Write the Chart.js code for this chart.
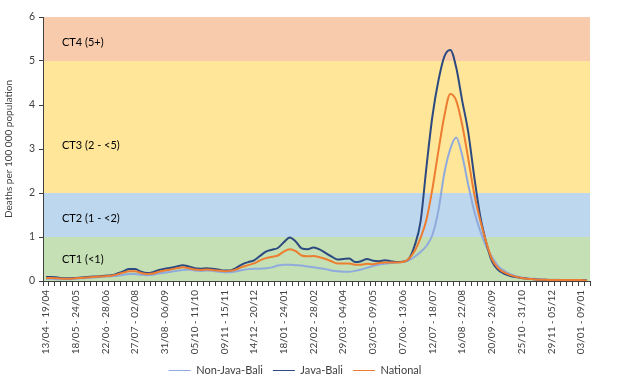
<!DOCTYPE html>
<html>
<head>
<meta charset="utf-8">
<script src="https://cdn.jsdelivr.net/npm/chart.js@4"></script>
<style>
  html, body { margin: 0; padding: 0; background: #fff; }
</style>
</head>
<body>
<canvas id="deathsChart" width="619" height="392"></canvas>
<script>
// weekly periods, first week starts 13/04/2020
const firstWeek = Date.UTC(2020, 3, 13);
const weekCount = 92;
const labelEvery = 5;

const nonJavaBali = [
  0.05, 0.05, 0.04, 0.04, 0.04, 0.05, 0.06, 0.07, 0.08, 0.09,
  0.10, 0.11, 0.12, 0.14, 0.16, 0.16, 0.14, 0.13, 0.14, 0.17,
  0.19, 0.21, 0.23, 0.25, 0.26, 0.24, 0.23, 0.24, 0.23, 0.21,
  0.20, 0.20, 0.22, 0.25, 0.27, 0.28, 0.28, 0.29, 0.31, 0.35,
  0.37, 0.37, 0.36, 0.35, 0.33, 0.31, 0.29, 0.27, 0.24, 0.22,
  0.21, 0.21, 0.23, 0.26, 0.30, 0.34, 0.37, 0.39, 0.41, 0.42,
  0.43, 0.47, 0.55, 0.66, 0.80, 1.05, 1.60, 2.45, 3.00, 3.26,
  2.85, 2.20, 1.60, 1.15, 0.80, 0.55, 0.35, 0.24, 0.16, 0.11,
  0.08, 0.06, 0.05, 0.04, 0.03, 0.03, 0.03, 0.02, 0.02, 0.02,
  0.02, 0.02
];
const javaBali = [
  0.09, 0.09, 0.08, 0.06, 0.06, 0.07, 0.08, 0.09, 0.10, 0.11,
  0.12, 0.13, 0.17, 0.22, 0.27, 0.27, 0.21, 0.18, 0.20, 0.25,
  0.28, 0.30, 0.33, 0.36, 0.33, 0.29, 0.28, 0.29, 0.28, 0.26,
  0.24, 0.24, 0.30, 0.38, 0.43, 0.47, 0.57, 0.67, 0.71, 0.75,
  0.88, 0.99, 0.90, 0.74, 0.72, 0.76, 0.72, 0.64, 0.56, 0.49,
  0.50, 0.51, 0.43, 0.45, 0.50, 0.46, 0.45, 0.47, 0.45, 0.43,
  0.44, 0.50, 0.80, 1.35, 2.60, 3.75, 4.55, 5.10, 5.25, 4.85,
  4.10, 3.40, 2.40, 1.50, 0.90, 0.45, 0.26, 0.17, 0.12, 0.09,
  0.07, 0.05, 0.04, 0.03, 0.03, 0.02, 0.02, 0.02, 0.02, 0.02,
  0.02, 0.01
];
const national = [
  0.07, 0.07, 0.06, 0.05, 0.05, 0.06, 0.07, 0.08, 0.09, 0.10,
  0.11, 0.12, 0.15, 0.19, 0.22, 0.22, 0.18, 0.16, 0.17, 0.21,
  0.24, 0.26, 0.29, 0.31, 0.29, 0.26, 0.25, 0.26, 0.25, 0.24,
  0.22, 0.23, 0.26, 0.32, 0.36, 0.40, 0.47, 0.52, 0.55, 0.58,
  0.67, 0.72, 0.68, 0.58, 0.56, 0.57, 0.54, 0.50, 0.45, 0.40,
  0.40, 0.40, 0.37, 0.37, 0.39, 0.38, 0.41, 0.42, 0.42, 0.42,
  0.43, 0.50, 0.68, 0.98, 1.40, 2.10, 2.95, 3.75, 4.25, 4.10,
  3.55, 2.80, 2.00, 1.40, 0.90, 0.50, 0.30, 0.20, 0.14, 0.10,
  0.07, 0.05, 0.04, 0.03, 0.03, 0.02, 0.02, 0.02, 0.02, 0.02,
  0.02, 0.01
];

// community transmission levels
const bandEdges = [0, 1, 2, 5, 6];
const bandColors = ['#C5E0B4', '#BDD7EE', '#FFE699', '#F8CBAD'];
const bandLabels = ['CT1 (<1)', 'CT2 (1 - <2)', 'CT3 (2 - <5)', 'CT4 (5+)'];
const bandLabelAt = [0.5, 1.43, 3.09, 5.42];

const yTicks = [0, 1, 2, 3, 4, 5, 6];

const pad = n => String(n).padStart(2, '0');
const dm = d => pad(d.getUTCDate()) + '/' + pad(d.getUTCMonth() + 1);
const weeks = [];
for (let i = 0; i < weekCount; i++) {
  const start = new Date(firstWeek + i * 7 * 864e5);
  const end = new Date(firstWeek + (i * 7 + 6) * 864e5);
  weeks.push(dm(start) + ' - ' + dm(end));
}

const bandPlugin = {
  id: 'ctBands',
  beforeDraw(chart) {
    const { ctx, chartArea: a, scales: { y } } = chart;
    ctx.save();
    for (let i = 0; i < bandColors.length; i++) {
      const top = y.getPixelForValue(bandEdges[i + 1]);
      const bottom = y.getPixelForValue(bandEdges[i]);
      ctx.fillStyle = bandColors[i];
      ctx.fillRect(a.left, top, a.right - a.left, bottom - top);
    }
    ctx.fillStyle = '#000';
    ctx.font = '11px Lato';
    ctx.textBaseline = 'middle';
    bandLabels.forEach((t, i) => ctx.fillText(t, a.left + 19, y.getPixelForValue(bandLabelAt[i])));
    ctx.restore();
  }
};

const axisFont = { family: 'Lato', size: 10 };

new Chart(document.getElementById('deathsChart'), {
  type: 'line',
  data: {
    labels: weeks,
    datasets: [
      // drawn last -> on top
      { label: 'Non-Java-Bali', data: nonJavaBali, borderColor: '#8FAADC', order: 2 },
      { label: 'Java-Bali', data: javaBali, borderColor: '#2C4A80', order: 1 },
      { label: 'National', data: national, borderColor: '#ED7D31', order: 0 }
    ]
  },
  options: {
    responsive: false,
    animation: false,
    layout: { padding: { top: 17, right: 29, bottom: 6, left: 0 } },
    elements: {
      point: { radius: 0 },
      line: { borderWidth: 2, cubicInterpolationMode: 'monotone', fill: false }
    },
    scales: {
      x: {
        offset: true,
        grid: { drawOnChartArea: false, tickLength: 5, color: '#404040', offset: true },
        border: { color: '#404040' },
        ticks: {
          autoSkip: false,
          maxRotation: 90,
          minRotation: 90,
          padding: 4,
          color: '#404040',
          font: axisFont,
          callback: (v, i) => (i % labelEvery === 0 ? weeks[i] : '')
        },
        afterFit: s => { s.height = 74; }
      },
      y: {
        min: 0,
        max: 6,
        afterBuildTicks: s => { s.ticks = yTicks.map(v => ({ value: v })); },
        grid: { drawOnChartArea: false, tickLength: 4, color: '#404040' },
        border: { color: '#404040' },
        ticks: { color: '#404040', font: { family: 'Lato', size: 10.5 }, padding: 4 },
        title: {
          display: true,
          text: 'Deaths per 100 000 population',
          color: '#404040',
          font: { family: 'Lato', size: 10 },
          padding: { top: 3, bottom: 2 }
        },
        afterFit: s => { s.width = 43; }
      }
    },
    plugins: {
      legend: {
        position: 'bottom',
        labels: {
          usePointStyle: true,
          pointStyle: 'line',
          pointStyleWidth: 22,
          boxHeight: 2,
          padding: 10,
          color: '#404040',
          font: { family: 'Lato', size: 11 },
          sort: (a, b) => a.datasetIndex - b.datasetIndex
        }
      },
      tooltip: { enabled: false }
    }
  },
  plugins: [bandPlugin]
});
</script>
</body>
</html>
